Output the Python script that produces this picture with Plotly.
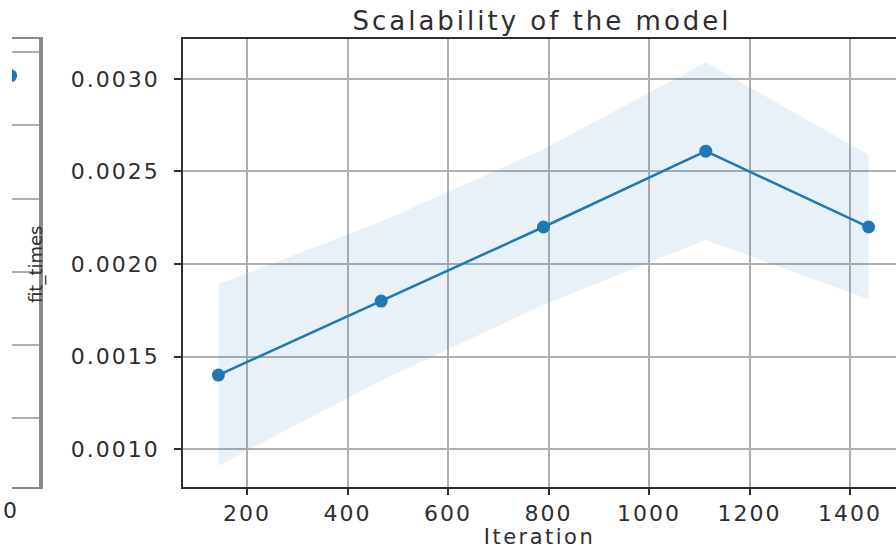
import plotly.graph_objects as go

# Fit time per training-set size (mean and spread across CV folds)
train_sizes = [143, 467, 790, 1113, 1437]
fit_times_mean = [0.00140, 0.00180, 0.00220, 0.00261, 0.00220]
fit_times_std = [0.00049, 0.00043, 0.00042, 0.00048, 0.00039]

x_ticks = [200, 400, 600, 800, 1000, 1200, 1400]
y_ticks = [0.0010, 0.0015, 0.0020, 0.0025, 0.0030]

# Neighbouring learning-curve panel; only its right edge is in view
lc_sizes = [1437]
lc_train_score = [0.984]
lc_y_ticks = [0.75, 0.80, 0.85, 0.90, 0.95, 1.00]
lc_edge_label = "0"

W, H = 896, 549
TOP, BOTTOM = 39, 487          # plot area in pixels
BLUE = "#1f77b4"
TEXT = "#2e2e2e"
GRID = "#b0b0b0"
FONT = "DejaVu Sans"


def py(px):
    """pixel row -> paper y (paper spans the plot area)"""
    return (BOTTOM - px) / (BOTTOM - TOP)


def wide(text, spacing):
    """text with extra letter spacing for the wide figure lettering"""
    return f'<span style="letter-spacing:{spacing}px">{text}</span>'


upper = [m + s for m, s in zip(fit_times_mean, fit_times_std)]
lower = [m - s for m, s in zip(fit_times_mean, fit_times_std)]

fig = go.Figure()

# spread band
fig.add_trace(go.Scatter(
    x=train_sizes + train_sizes[::-1],
    y=upper + lower[::-1],
    fill="toself",
    fillcolor="rgba(31,119,180,0.1)",
    line=dict(width=0),
    mode="lines",
    hoverinfo="skip",
    xaxis="x", yaxis="y",
))

# mean fit time
fig.add_trace(go.Scatter(
    x=train_sizes, y=fit_times_mean,
    mode="lines+markers",
    line=dict(color=BLUE, width=2.5),
    marker=dict(color=BLUE, size=13),
    xaxis="x", yaxis="y",
))

# left panel: last training-score point
fig.add_trace(go.Scatter(
    x=lc_sizes, y=lc_train_score,
    mode="markers",
    marker=dict(color=BLUE, size=13),
    xaxis="x2", yaxis="y2",
    cliponaxis=True,
))

fig.update_layout(
    width=W, height=H,
    margin=dict(l=0, r=0, t=TOP, b=H - BOTTOM),
    paper_bgcolor="white",
    plot_bgcolor="white",
    showlegend=False,
    font=dict(family=FONT, color=TEXT),
    title=dict(
        text=wide("Scalability of the model", 3),
        font=dict(size=26, color=TEXT, family=FONT),
        x=542 / W, xanchor="center", xref="paper",
        y=1 - 21 / H, yanchor="middle", yref="container",
    ),
    xaxis=dict(
        domain=[183 / W, 1.0],
        range=[72.6, 1491.5],
        tickvals=x_ticks,
        ticktext=[wide(f"{v}", 2) for v in x_ticks],
        showgrid=True, gridcolor=GRID, gridwidth=1.5,
        zeroline=False,
        showline=True, mirror=True, linecolor=TEXT, linewidth=1.6,
        ticks="outside", ticklen=6, tickwidth=1.5, tickcolor=TEXT,
        tickfont=dict(size=22, color=TEXT),
        title=dict(text=wide("Iteration", 2.5), font=dict(size=21, color=TEXT), standoff=5),
        anchor="y",
    ),
    yaxis=dict(
        domain=[0, 1],
        range=[0.000795, 0.003216],
        tickvals=y_ticks,
        ticktext=[wide(f"{v:.4f}", 2) for v in y_ticks],
        showgrid=True, gridcolor=GRID, gridwidth=1.5,
        zeroline=False,
        showline=True, mirror=False, linecolor=TEXT, linewidth=1.6,
        ticks="outside", ticklen=7, tickwidth=1.5, tickcolor=TEXT,
        tickfont=dict(size=22, color=TEXT),
        ticklabelstandoff=10,
        anchor="x",
    ),
    xaxis2=dict(
        domain=[12 / W, 39 / W],
        range=[1440, 1501.7],
        showgrid=False, zeroline=False,
        showticklabels=False, ticks="",
        showline=True, mirror=True, linecolor="#8a8a8a", linewidth=2,
        anchor="y2",
    ),
    yaxis2=dict(
        domain=[0, 1],
        range=[0.703, 1.009],
        tickvals=lc_y_ticks,
        showgrid=True, gridcolor=GRID, gridwidth=1.5,
        zeroline=False,
        showticklabels=False, ticks="",
        showline=True, side="right", linecolor="#8a8a8a", linewidth=4,
        anchor="x2",
    ),
    annotations=[
        dict(
            text="fit_times", textangle=-90,
            x=36 / W, y=py(265), xref="paper", yref="paper",
            xanchor="center", yanchor="middle", showarrow=False,
            font=dict(size=18, color=TEXT, family=FONT),
        ),
        dict(
            text=lc_edge_label,
            x=19 / W, y=py(510), xref="paper", yref="paper",
            xanchor="right", yanchor="middle", showarrow=False,
            font=dict(size=22, color=TEXT, family=FONT),
        ),
    ],
)

fig.write_html("out.html")
